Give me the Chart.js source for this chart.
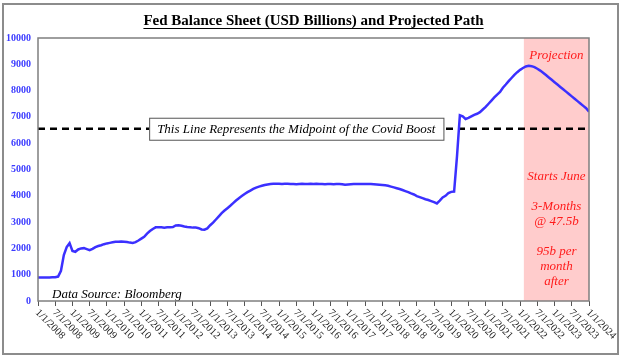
<!DOCTYPE html>
<html>
<head>
<meta charset="utf-8">
<script src="https://cdn.jsdelivr.net/npm/chart.js@4/dist/chart.umd.min.js"></script>
<style>
html, body { margin: 0; padding: 0; background: #fff; }
#wrap { width: 624px; height: 359px; position: relative; }
</style>
</head>
<body>
<div id="wrap"><canvas id="lineChart" width="624" height="359"></canvas></div>
<script>
// monthly balance sheet, USD billions, Jan 2008 .. Jan 2024 (x = months since Jan 2008)
var balance = [
  890, 890, 895, 890, 895, 900, 905, 930, 1150, 1750, 2050, 2200,     // 2008
  1900, 1870, 1960, 2000, 2010, 1970, 1930, 1980, 2050, 2090, 2120, 2160, // 2009
  2190, 2210, 2230, 2250, 2250, 2260, 2250, 2240, 2220, 2210, 2240, 2300, // 2010
  2370, 2440, 2560, 2660, 2740, 2800, 2800, 2800, 2790, 2800, 2800, 2810, // 2011
  2870, 2880, 2860, 2830, 2810, 2800, 2790, 2790, 2770, 2720, 2710, 2760, // 2012
  2880, 2980, 3100, 3220, 3340, 3440, 3530, 3620, 3720, 3820, 3910, 3990, // 2013
  4070, 4140, 4200, 4260, 4310, 4350, 4380, 4410, 4430, 4450, 4460, 4460, // 2014
  4460, 4450, 4460, 4460, 4450, 4450, 4440, 4450, 4460, 4450, 4450, 4460, // 2015
  4450, 4460, 4450, 4450, 4440, 4450, 4450, 4440, 4450, 4450, 4440, 4420, // 2016
  4430, 4440, 4450, 4450, 4450, 4450, 4450, 4450, 4450, 4440, 4430, 4420, // 2017
  4410, 4400, 4380, 4350, 4320, 4290, 4260, 4220, 4180, 4140, 4090, 4050, // 2018
  3990, 3950, 3910, 3870, 3840, 3800, 3760, 3710, 3820, 3940, 4000, 4100, // 2019
  4150, 4160, 5500, 7060, 7020, 6920, 6960, 7020, 7080, 7120, 7180, 7280, // 2020
  7380, 7500, 7620, 7740, 7850, 7950, 8110, 8230, 8360, 8480, 8600, 8700, // 2021
  8790, 8860, 8920, 8940, 8930, 8890, 8830, 8760, 8680, 8590, 8500, 8410, // 2022
  8320, 8230, 8140, 8050, 7960, 7870, 7780, 7690, 7600, 7510, 7420, 7330, // 2023
  7200                                                                    // Jan 2024
];
var midpointLevel = 6550;
var projectionStart = 169.3; // months since Jan 2008
var tickLabels = [
  "1/1/2008", "7/1/2008", "1/1/2009", "7/1/2009", "1/1/2010", "7/1/2010",
  "1/1/2011", "7/1/2011", "1/1/2012", "7/1/2012", "1/1/2013", "7/1/2013",
  "1/1/2014", "7/1/2014", "1/1/2015", "7/1/2015", "1/1/2016", "7/1/2016",
  "1/1/2017", "7/1/2017", "1/1/2018", "7/1/2018", "1/1/2019", "7/1/2019",
  "1/1/2020", "7/1/2020", "1/1/2021", "7/1/2021", "1/1/2022", "7/1/2022",
  "1/1/2023", "7/1/2023", "1/1/2024"
];
var titleText = "Fed Balance Sheet (USD Billions) and Projected Path";
var midpointText = "This Line Represents the Midpoint of the Covid Boost";
var projectionNotes = ["Starts June", "", "3-Months", "@ 47.5b", "", "95b per", "month", "after"];

var serif = "'Liberation Serif', 'Times New Roman', serif";

var decorations = {
  id: 'decorations',
  beforeDraw: function(chart) {
    var c = chart.ctx;
    c.save();
    c.fillStyle = '#fff';
    c.fillRect(0, 0, chart.width, chart.height);
    // outer frame
    c.strokeStyle = '#8c8c8c';
    c.lineWidth = 2;
    c.strokeRect(3, 4, 615, 350);
    // title
    var a = chart.chartArea;
    var cx = (a.left + a.right) / 2;
    c.font = 'bold 15px ' + serif;
    c.fillStyle = '#000';
    c.textAlign = 'center';
    c.textBaseline = 'alphabetic';
    c.fillText(titleText, cx, 25);
    var w = c.measureText(titleText).width;
    c.strokeStyle = '#000';
    c.lineWidth = 1;
    c.beginPath();
    c.moveTo(cx - w / 2, 28.5);
    c.lineTo(cx + w / 2, 28.5);
    c.stroke();
    c.restore();
  },
  beforeDatasetsDraw: function(chart) {
    var c = chart.ctx, a = chart.chartArea, xs = chart.scales.x;
    var px = xs.getPixelForValue(projectionStart);
    c.save();
    c.fillStyle = '#ffcccc';
    c.fillRect(px, a.top, a.right - px, a.bottom - a.top);
    c.restore();
  },
  afterDatasetsDraw: function(chart) {
    var c = chart.ctx, a = chart.chartArea, xs = chart.scales.x, ys = chart.scales.y;
    c.save();
    // midpoint label box
    c.font = 'italic 13px ' + serif;
    var tw = c.measureText(midpointText).width;
    var bx = xs.getPixelForValue(90), by = ys.getPixelForValue(midpointLevel);
    c.fillStyle = '#fff';
    c.fillRect(bx - tw / 2 - 8, by - 11, tw + 16, 22);
    c.strokeStyle = '#555';
    c.lineWidth = 1;
    c.strokeRect(bx - tw / 2 - 8 + 0.5, by - 11 + 0.5, tw + 16, 22);
    c.fillStyle = '#000';
    c.textAlign = 'center';
    c.textBaseline = 'middle';
    c.fillText(midpointText, bx, by + 1);

    // projection notes
    var px = (xs.getPixelForValue(projectionStart) + a.right) / 2;
    c.fillStyle = '#ff1a1a';
    c.font = 'italic 13px ' + serif;
    c.fillText('Projection', px, a.top + 18);
    projectionNotes.forEach(function(t, i) {
      if (t) c.fillText(t, px, 177 + i * 15);
    });

    // data source
    c.fillStyle = '#000';
    c.textAlign = 'left';
    c.font = 'italic 13px ' + serif;
    c.fillText('Data Source: Bloomberg', 52, 295);

    // plot box
    c.strokeStyle = '#7f7f7f';
    c.lineWidth = 1.5;
    c.strokeRect(a.left, a.top, a.right - a.left, a.bottom - a.top);

    // rotated x labels
    c.fillStyle = '#222';
    c.font = '10.5px ' + serif;
    c.textAlign = 'left';
    c.textBaseline = 'middle';
    xs.ticks.forEach(function(t) {
      var lbl = tickLabels[Math.round(t.value / 6)];
      if (!lbl) return;
      var x = xs.getPixelForValue(t.value);
      c.save();
      c.translate(x - 1, a.bottom + 10);
      c.rotate(Math.PI / 4);
      c.fillText(lbl, 0, 0);
      c.restore();
    });
    c.restore();
  }
};

var ctxL = document.getElementById("lineChart").getContext('2d');
var myLineChart = new Chart(ctxL, {
  type: 'line',
  data: {
    datasets: [{
      label: "Fed balance sheet",
      data: balance.map(function(v, i) { return { x: i, y: v }; }),
      borderColor: '#3b30ff',
      borderWidth: 2.5,
      pointRadius: 0,
      fill: false,
      tension: 0
    },
    {
      label: "Midpoint",
      data: [{ x: 0, y: midpointLevel }, { x: balance.length - 1, y: midpointLevel }],
      borderColor: '#000',
      borderWidth: 2.5,
      borderDash: [7, 5],
      pointRadius: 0,
      fill: false
    }]
  },
  options: {
    responsive: false,
    animation: false,
    devicePixelRatio: 1,
    layout: { padding: { top: 38, right: 35, left: 0, bottom: 0 } },
    plugins: { legend: { display: false }, tooltip: { enabled: false } },
    scales: {
      x: {
        type: 'linear',
        min: 0,
        max: 192,
        ticks: { stepSize: 6, display: false },
        grid: { drawOnChartArea: false, drawTicks: true, tickLength: 5, color: '#555' },
        border: { display: false },
        afterFit: function(s) { s.height = 58; }
      },
      y: {
        min: 0,
        max: 10000,
        ticks: {
          stepSize: 1000,
          color: '#3c3cff',
          padding: 7,
          font: { family: serif, size: 10, weight: 'bold' },
          callback: function(v) { return String(v); }
        },
        grid: { display: false, drawTicks: false },
        border: { display: false },
        afterFit: function(s) { s.width = 38; }
      }
    }
  },
  plugins: [decorations]
});
</script>
</body>
</html>
